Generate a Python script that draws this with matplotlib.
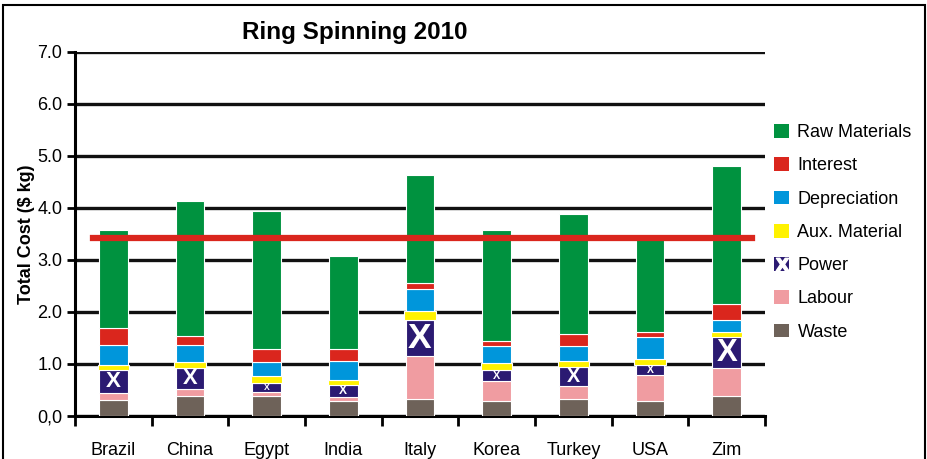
import numpy as np
import matplotlib.pyplot as plt
from matplotlib.patches import Patch, Rectangle
from matplotlib.lines import Line2D
from matplotlib.legend_handler import HandlerTuple

plt.rcParams['font.family'] = ['Liberation Sans', 'DejaVu Sans']

# data ($ per kg), bottom segment first
countries = ['Brazil', 'China', 'Egypt', 'India', 'Italy', 'Korea', 'Turkey', 'USA', 'Zim']
waste = [0.30, 0.39, 0.38, 0.28, 0.33, 0.29, 0.32, 0.29, 0.38]
labour = [0.15, 0.12, 0.09, 0.09, 0.83, 0.38, 0.25, 0.49, 0.54]
power = [0.43, 0.42, 0.165, 0.23, 0.68, 0.21, 0.38, 0.20, 0.60]
aux = [0.11, 0.11, 0.125, 0.09, 0.17, 0.14, 0.11, 0.12, 0.10]
depreciation = [0.37, 0.33, 0.28, 0.37, 0.43, 0.33, 0.28, 0.42, 0.22]
interest = [0.34, 0.16, 0.24, 0.23, 0.12, 0.10, 0.24, 0.09, 0.31]
raw = [1.88, 2.60, 2.67, 1.78, 2.07, 2.12, 2.30, 1.80, 2.66]
reference_cost = 3.43

yticks = [0, 1, 2, 3, 4, 5, 6, 7]
ytick_labels = ['0,0', '1.0', '2.0', '3.0', '4.0', '5.0', '6.0', '7.0']

segments = [
    ('Waste', waste, '#6e6259'),
    ('Labour', labour, '#f09ca1'),
    ('Power', power, '#2b1a72'),
    ('Aux. Material', aux, '#fff200'),
    ('Depreciation', depreciation, '#0096db'),
    ('Interest', interest, '#da261d'),
    ('Raw Materials', raw, '#00923f'),
]

fig = plt.figure(figsize=(9.28, 4.59), dpi=100)
ax = fig.add_axes([75 / 928, 43 / 459, 690 / 928, 364 / 459])

x = np.arange(len(countries))
bottom = np.zeros(len(countries))
for name, vals, col in segments:
    vals = np.array(vals)
    w = 0.41 if name == 'Aux. Material' else 0.37
    ax.bar(x, vals, width=w, bottom=bottom, color=col, edgecolor='white',
           linewidth=0.8, zorder=3)
    if name == 'Power':
        px_per_unit = 364 / 7
        for xi, b, v in zip(x, bottom, vals):
            fs = max(5, 0.72 * v * px_per_unit)
            ax.text(xi, b + v / 2, 'X', color='white', fontweight='bold',
                    fontsize=fs, ha='center', va='center', zorder=4)
    bottom += vals

ax.axhline(reference_cost, xmin=0.026, xmax=0.981, color='#da261d', lw=4.5, zorder=5)

ax.set_xlim(-0.5, len(countries) - 0.5)
ax.set_ylim(0, 7)
ax.set_yticks(yticks)
ax.set_yticklabels(ytick_labels, fontsize=13)
ax.set_xticks(x)
ax.set_xticklabels(countries, fontsize=13)
ax.set_xticks(np.arange(len(countries) + 1) - 0.5, minor=True)
ax.tick_params(axis='x', which='major', length=0, pad=19)
ax.tick_params(axis='x', which='minor', length=7, width=2, direction='out')
ax.tick_params(axis='y', length=6, width=2, direction='out', pad=3)
ax.yaxis.grid(True, color='#111111', lw=2.4, zorder=0)
ax.set_axisbelow(True)
for s in ['top', 'right']:
    ax.spines[s].set_visible(False)
for s in ['left', 'bottom']:
    ax.spines[s].set_linewidth(2.2)

ax.set_ylabel('Total Cost ($ kg)', fontsize=13, fontweight='bold', labelpad=2)
fig.text(355 / 928, 1 - 33 / 459, 'Ring Spinning 2010', fontsize=17.5,
         fontweight='bold', ha='center', va='center')

# legend, top entry first
leg_handles = []
leg_labels = []
for name, vals, col in segments[::-1]:
    if name == 'Power':
        h = (Patch(facecolor=col),
             Line2D([], [], marker=r'$\mathbf{X}$', color='white', ls='', markersize=9))
    else:
        h = Patch(facecolor=col)
    leg_handles.append(h)
    leg_labels.append(name)
fig.legend(leg_handles, leg_labels, loc='upper left',
           bbox_to_anchor=(774 / 928, 1 - 124 / 459), frameon=False,
           fontsize=13, labelspacing=0.89, handlelength=0.85, handleheight=0.8,
           handletextpad=0.45, borderpad=0, borderaxespad=0,
           handler_map={tuple: HandlerTuple(ndivide=1)})

fig.add_artist(Rectangle((3 / 928, -0.05), 922 / 928, 1.05 - 5 / 459,
                         transform=fig.transFigure, fill=False,
                         edgecolor='black', lw=1.5))

fig.savefig('out.png', dpi=100)
